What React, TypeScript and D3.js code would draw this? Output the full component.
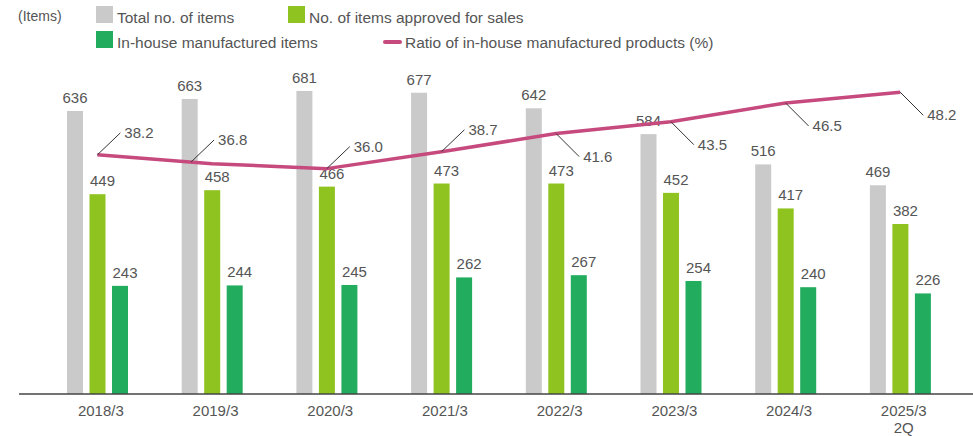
import React from "react";
import * as d3 from "d3";

const categories = ["2018/3", "2019/3", "2020/3", "2021/3", "2022/3", "2023/3", "2024/3", "2025/3\n2Q"];
const totalItems = [636, 663, 681, 677, 642, 584, 516, 469];
const approvedItems = [449, 458, 466, 473, 473, 452, 417, 382];
const inHouseItems = [243, 244, 245, 262, 267, 254, 240, 226];
const ratio = [38.2, 36.8, 36.0, 38.7, 41.6, 43.5, 46.5, 48.2];
const ratioLabelDir = ["up", "up", "up", "up", "down", "down", "down", "down"];

const seriesKeys = ["total", "approved", "inhouse"];
const seriesNames = ["Total no. of items", "No. of items approved for sales", "In-house manufactured items"];
const lineName = "Ratio of in-house manufactured products (%)";
const colors: Record<string, string> = { total: "#c9cac9", approved: "#8fc31f", inhouse: "#22ac5e" };
const lineColor = "#c74a7e";
const textColor = "#555";

const W = 973;
const H = 436;
const baseY = 394;
const FONT = "'Liberation Sans', Arial, Helvetica, sans-serif";

export default function App() {
  const x = d3.scaleBand<string>().domain(categories).range([40, 957.6]).padding(0);
  const inner = d3.scaleBand<string>().domain(seriesKeys).range([27, 88]).paddingInner(0.289).paddingOuter(0);
  const y = d3.scaleLinear().domain([0, 700]).range([baseY, baseY - 311.5]);
  const yR = d3.scaleLinear().domain([0, 50]).range([baseY, baseY - 313]);
  const bw = inner.bandwidth();
  const cx = (c: string) => (x(c) as number) + x.bandwidth() / 2;

  const values: Record<string, number[]> = { total: totalItems, approved: approvedItems, inhouse: inHouseItems };

  const line = d3
    .line<number>()
    .x((_, i) => cx(categories[i]))
    .y((d) => yR(d));

  return (
    <svg width={W} height={H} style={{ display: "block", position: "absolute", left: 0, top: 0 }} fontFamily={FONT}>
      <rect width={W} height={H} fill="#fff" />
      {/* legend */}
      <text x={18} y={21} fontSize={14} fill={textColor}>(Items)</text>
      <rect x={96} y={6} width={17} height={17} fill={colors.total} />
      <text x={117} y={23} fontSize={15.5} fill={textColor}>{seriesNames[0]}</text>
      <rect x={288} y={6} width={17} height={17} fill={colors.approved} />
      <text x={309} y={23} fontSize={15.5} fill={textColor}>{seriesNames[1]}</text>
      <rect x={96} y={31} width={17} height={17} fill={colors.inhouse} />
      <text x={117} y={48} fontSize={15.5} fill={textColor}>{seriesNames[2]}</text>
      <line x1={385} x2={400} y1={42} y2={42} stroke={lineColor} strokeWidth={4} strokeLinecap="round" />
      <text x={405} y={48} fontSize={15.5} fill={textColor}>{lineName}</text>

      {/* bars */}
      {categories.map((c, i) => (
        <g key={c}>
          {seriesKeys.map((k) => {
            const v = values[k][i];
            const bx = (x(c) as number) + (inner(k) as number);
            const top = y(v);
            const isTotal = k === "total";
            return (
              <g key={k}>
                <rect x={bx} y={top} width={bw} height={baseY - top} fill={colors[k]} />
                <text
                  x={isTotal ? bx + bw / 2 : bx + bw / 2 + 5}
                  y={top - 8}
                  fontSize={15}
                  fill={textColor}
                  textAnchor="middle"
                >
                  {v}
                </text>
              </g>
            );
          })}
        </g>
      ))}

      {/* axis */}
      <line x1={19} x2={973} y1={baseY} y2={baseY} stroke="#444" strokeWidth={1.5} />
      {categories.map((c) =>
        c.split("\n").map((t, j) => (
          <text key={c + j} x={cx(c) + 3.5} y={416 + j * 17} fontSize={15} fill={textColor} textAnchor="middle">
            {t}
          </text>
        ))
      )}

      {/* line */}
      <path d={line(ratio) || ""} fill="none" stroke={lineColor} strokeWidth={3.5} strokeLinejoin="round" />
      {ratio.map((v, i) => {
        const px = cx(categories[i]);
        const py = yR(v);
        const up = ratioLabelDir[i] === "up";
        let sx = px;
        let sy = py;
        if (i === 1) {
          sx = px - 21;
          sy = yR(ratio[0]) + ((yR(ratio[1]) - yR(ratio[0])) * (sx - cx(categories[0]))) / (px - cx(categories[0]));
        }
        const ex = sx + 23;
        const ey = up ? sy - 22 : sy + 23;
        return (
          <g key={i}>
            <line x1={sx} y1={sy} x2={ex} y2={ey} stroke="#333" strokeWidth={1} />
            <text x={ex + 4} y={ey + 5} fontSize={15} fill={textColor}>
              {v.toFixed(1)}
            </text>
          </g>
        );
      })}
    </svg>
  );
}
